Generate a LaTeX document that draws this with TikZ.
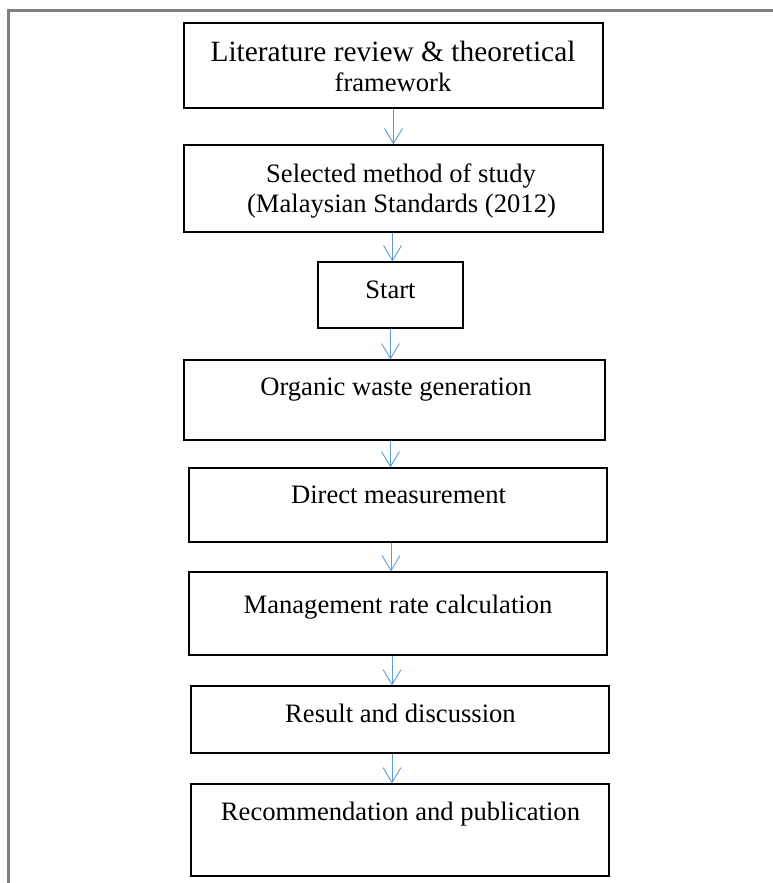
\documentclass[tikz,border=0pt]{standalone}
\usepackage{fontspec}
\setmainfont{Liberation Serif}
\usetikzlibrary{arrows.meta}
\definecolor{flowblue}{HTML}{5B9BD5}
\definecolor{framegray}{HTML}{7F7F7F}

\begin{document}
\begin{tikzpicture}[x=1pt,y=-1pt,>={Straight Barb[length=15pt,width=18pt]},box/.style={draw,line width=1.2pt,rectangle,inner sep=0pt},txt/.style={anchor=base,inner sep=0pt,font=\fontsize{26.6}{30}\selectfont},flow/.style={->,draw=flowblue,line width=0.9pt}]
  \useasboundingbox (0,0) rectangle (773,883);
  % frame, cut off right and below
  \draw[framegray,line width=2.5pt] (8.5,883) -- (8.5,10.5) -- (773,10.5);
  % boxes
  \node[box,minimum width=419pt,minimum height=85pt] (lit) at (393.5,65.5) {};
  \node[box,minimum width=419pt,minimum height=87pt] (sel) at (393.5,188.5) {};
  \node[box,minimum width=145pt,minimum height=66pt] (start) at (390.5,295) {};
  \node[box,minimum width=421pt,minimum height=80pt] (gen) at (394.5,400) {};
  \node[box,minimum width=418pt,minimum height=74pt] (meas) at (398,505) {};
  \node[box,minimum width=418pt,minimum height=83pt] (rate) at (398,613.5) {};
  \node[box,minimum width=418pt,minimum height=67pt] (res) at (400,719.5) {};
  \node[box,minimum width=418pt,minimum height=92pt] (rec) at (400,830) {};
  % texts
  \node[txt,font=\fontsize{29.4}{33}\selectfont] (lit1) at (393,62) {Literature review \& theoretical};
  \node[txt] (lit2) at (393,91) {framework};
  \node[txt] (sel1) at (401,182) {Selected method of study};
  \node[txt] (sel2) at (401.5,212) {(Malaysian Standards (2012)};
  \node[txt] (start1) at (390.5,298) {Start};
  \node[txt] (gen1) at (396,395) {Organic waste generation};
  \node[txt] (meas1) at (398.5,503) {Direct measurement};
  \node[txt] (rate1) at (398,613) {Management rate calculation};
  \node[txt] (res1) at (400.5,722) {Result and discussion};
  \node[txt] (rec1) at (400.5,820) {Recommendation and publication};
  % arrows
  \draw[flow] (lit.south) -- (lit.south |- sel.north);
  \draw[flow] ([xshift=-1pt]sel.south) -- ([xshift=-1pt]sel.south |- start.north);
  \draw[flow] (start.south) -- (start.south |- gen.north);
  \draw[flow] ([xshift=-4pt]gen.south) -- ([xshift=-4pt]gen.south |- meas.north);
  \draw[flow] ([xshift=-7pt]meas.south) -- ([xshift=-7pt]meas.south |- rate.north);
  \draw[flow] ([xshift=-6pt]rate.south) -- ([xshift=-6pt]rate.south |- res.north);
  \draw[flow] ([xshift=-8pt]res.south) -- ([xshift=-8pt]res.south |- rec.north);
\end{tikzpicture}
\end{document}
